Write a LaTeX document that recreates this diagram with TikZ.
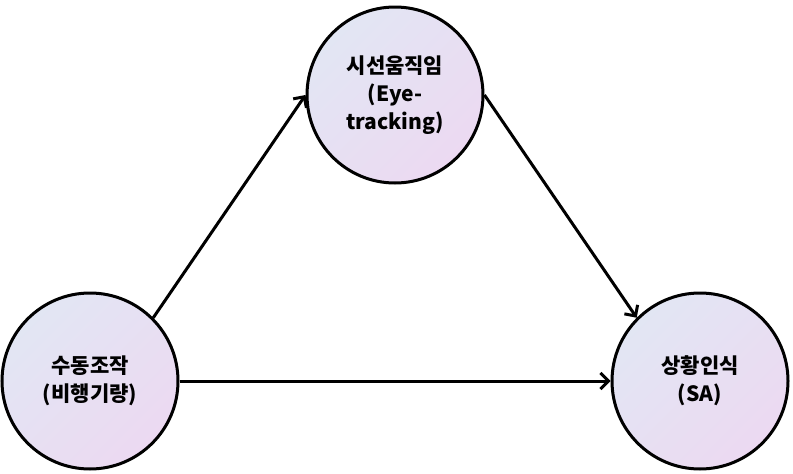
\documentclass[tikz,border=0pt]{standalone}
\usepackage{fontspec}
\newfontfamily\krfont{Noto Sans CJK KR Black}
\usetikzlibrary{arrows.meta,positioning}
\definecolor{bobletop}{HTML}{E2E6F3}
\definecolor{boblebund}{HTML}{ECD9F2}
\tikzset{
    >={Straight Barb[length=8pt,width=16pt]},
    boble/.style={
           circle,
           draw=black, line width=3pt,
           top color=bobletop, bottom color=boblebund, shading angle=45,
           minimum size=176pt,
           inner sep=0pt,
           align=center,
           font=\krfont\fontsize{21pt}{28pt}\selectfont},
    pil/.style={
           ->,
           line width=3pt}
}
\begin{document}
\begin{tikzpicture}[x=1pt,y=-1pt]
          \useasboundingbox (0,0) rectangle (793,474);
          \node[boble](eye) at (395,95) {시선움직임\\(Eye-\\tracking)};
          \node[boble](styr) at (90,381) {수동조작\\(비행기량)};
          \node[boble](sa) at (700,381) {상황인식\\(SA)};
          \draw[pil] (styr.45) -- (eye.west);
          \draw[pil] (eye.east) -- (sa.135);
          \draw[pil] (styr.east) -- (sa.west);
\end{tikzpicture}
\end{document}
